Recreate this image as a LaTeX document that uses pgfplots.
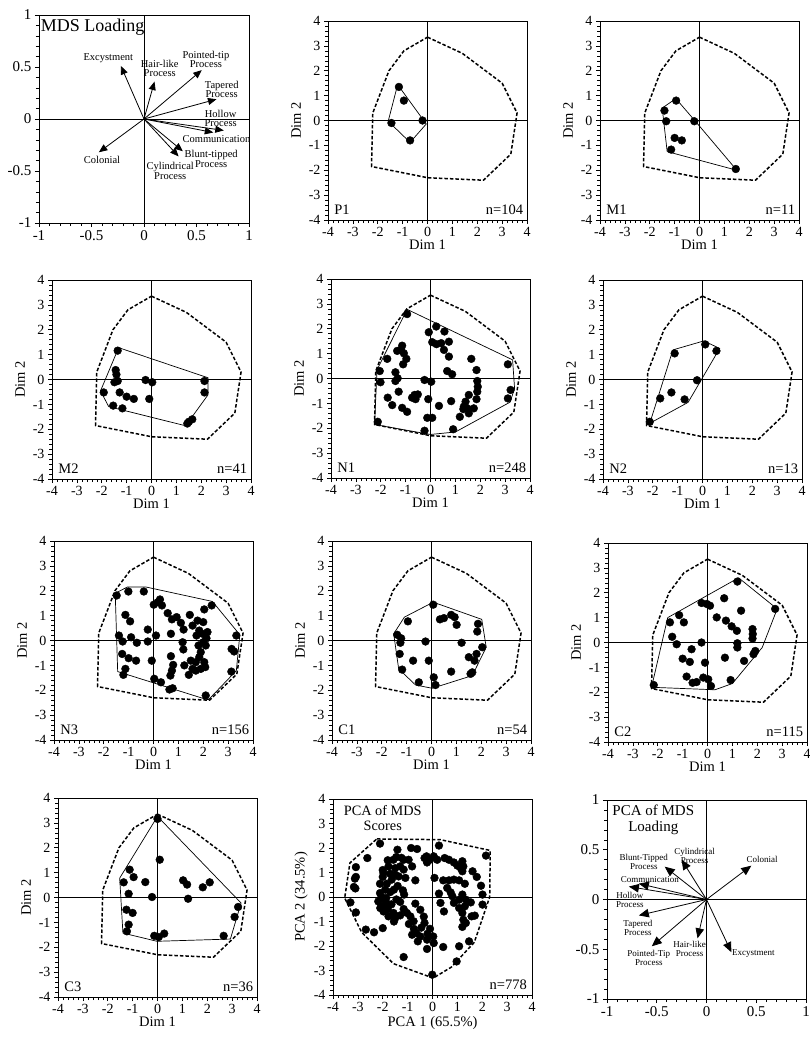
\documentclass[border=0pt]{standalone}
\usepackage{pgfplots}
\pgfplotsset{compat=1.18}
\usepackage{fontspec}
\setmainfont{Liberation Serif}
\usetikzlibrary{arrows.meta}

\newcommand{\zerolines}[1]{%
 \addplot[black, line width=0.8pt, forget plot] coordinates {(-#1,0) (#1,0)};
 \addplot[black, line width=0.8pt, forget plot] coordinates {(0,-#1) (0,#1)};
}
\newcommand{\allhull}{%
 \addplot[black, line width=1.5pt, dash pattern=on 3.5pt off 2pt] coordinates {(0,3.35) (1.4,2.7) (3.0,1.5) (3.6,0.3) (3.35,-1.35) (2.25,-2.4) (0,-2.3) (-2.25,-1.85) (-2.2,0.3) (-1.55,2.0) (-0.95,2.8) (0,3.35)};
}
\pgfplotsset{
 base/.style={scale only axis, tick align=outside, tick pos=left, minor tick num=4,
   axis line style={line width=0.8pt}, major tick length=4pt, minor tick length=3pt,
   every major tick/.style={black, line width=0.6pt},
   every minor tick/.style={black, line width=0.5pt},
   /pgf/number format/assume math mode=true, anchor=north west},
 scat/.style={base, width=199pt, height=199pt, xmin=-4, xmax=4, ymin=-4, ymax=4,
   xtick={-4,-3,...,4}, ytick={-4,-3,...,4}, xlabel={Dim 1}, ylabel={Dim 2},
   tick label style={font=\fontsize{14}{14}\selectfont},
   label style={font=\fontsize{14.5}{14.5}\selectfont},
   xlabel style={at={(axis description cs:0.5,-0.125)}, anchor=center},
   ylabel style={at={(axis description cs:-0.16,0.5)}, anchor=center}},
 load/.style={base, xmin=-1, xmax=1, ymin=-1, ymax=1,
   xtick={-1,-0.5,0,0.5,1}, ytick={-1,-0.5,0,0.5,1},
   tick label style={font=\fontsize{15}{15}\selectfont}},
 pts/.style={only marks, mark=*, mark size=3.9pt, black},
 hull/.style={black, line width=0.7pt},
 arr/.style={black, line width=0.8pt, -{Triangle[length=8.5pt,width=7pt]}},
 arrb/.style={black, line width=0.8pt, -{Triangle[length=10pt,width=8.5pt]}},
}
\newcommand{\nlab}[2]{%
 \node[anchor=west, inner sep=0pt, font=\fontsize{14.5}{14.5}\selectfont] at (axis cs:-3.75,-3.6) {#1};
 \node[anchor=east, inner sep=0pt, font=\fontsize{14.5}{14.5}\selectfont] at (axis cs:3.85,-3.6) {#2};
}

\begin{document}
\begin{tikzpicture}
\useasboundingbox (0,0) rectangle (810pt,-1041pt);

% ---------- Panel 1: MDS Loading
\begin{axis}[load, at={(39pt,-15pt)}, width=210pt, height=208pt]
\zerolines{1}
\addplot[arr] coordinates {(0,0) (-0.22,0.51)};
\addplot[arr] coordinates {(0,0) (0.10,0.36)};
\addplot[arr] coordinates {(0,0) (0.55,0.47)};
\addplot[arr] coordinates {(0,0) (0.69,0.19)};
\addplot[arr] coordinates {(0,0) (0.76,-0.11)};
\addplot[arr] coordinates {(0,0) (0.66,-0.13)};
\addplot[arr] coordinates {(0,0) (0.37,-0.31)};
\addplot[arr] coordinates {(0,0) (0.33,-0.36)};
\addplot[arr] coordinates {(0,0) (-0.43,-0.32)};
\begin{scope}[every node/.style={align=center, inner sep=0pt, font=\fontsize{10.5}{9.5}\selectfont}]
\node at (axis cs:-0.34,0.58) {Excystment};
\node at (axis cs:0.15,0.485) {Hair-like\\Process};
\node at (axis cs:0.59,0.575) {Pointed-tip\\Process};
\node at (axis cs:0.74,0.285) {Tapered\\Process};
\node at (axis cs:0.73,0.005) {Hollow\\Process};
\node at (axis cs:0.69,-0.195) {Communication};
\node at (axis cs:0.64,-0.385) {Blunt-tipped\\Process};
\node at (axis cs:0.25,-0.50) {Cylindrical\\Process};
\node at (axis cs:-0.40,-0.39) {Colonial};
\end{scope}
\node[anchor=west, inner sep=0pt, font=\fontsize{18}{18}\selectfont] at (axis cs:-0.985,0.885) {MDS Loading};
\end{axis}

% ---------- Panel 2: P1
\begin{axis}[scat, at={(328pt,-21pt)}]
\zerolines{4}
\allhull
\addplot[hull] coordinates {(-1.2,1.44) (-0.05,-0.14) (-0.7,-0.88) (-1.58,-0.03) (-1.2,1.44)};
\addplot[pts] coordinates {(-1.15,1.35) (-0.95,0.8) (-1.45,-0.1) (-0.2,0) (-0.7,-0.8)};
\nlab{P1}{n=104}
\end{axis}

% ---------- Panel 3: M1
\begin{axis}[scat, at={(600pt,-21pt)}]
\zerolines{4}
\allhull
\addplot[hull] coordinates {(-0.95,0.88) (-0.15,-0.05) (1.5,-2.0) (-1.3,-1.25) (-1.5,0.5) (-0.95,0.88)};
\addplot[pts] coordinates {(-0.94,0.8) (-1.41,0.4) (-1.34,-0.03) (-0.21,-0.03) (-1.0,-0.7) (-0.71,-0.8) (-1.14,-1.17) (1.46,-1.95)};
\nlab{M1}{n=11}
\end{axis}

% ---------- Panel 4: M2
\begin{axis}[scat, at={(52pt,-280pt)}]
\zerolines{4}
\allhull
\addplot[hull] coordinates {(-1.32,1.28) (2.27,0.07) (2.27,-0.62) (1.37,-1.86) (-1.72,-1.09) (-2.05,-0.46) (-1.32,1.28)};
\addplot[pts] coordinates {(-1.36,1.16) (-1.44,0.38) (-1.41,0.2) (-1.36,-0.06) (-1.49,-0.11) (-1.92,-0.52) (-1.28,-0.52) (-1.0,-0.69) (-0.71,-0.78) (-1.54,-1.05) (-1.17,-1.16) (-0.24,-0.02) (0.03,-0.11) (-0.09,-0.78) (2.13,-0.06) (2.13,-0.52) (1.5,-1.7) (1.64,-1.6) (1.44,-1.77)};
\nlab{M2}{n=41}
\end{axis}

% ---------- Panel 5: N1
\begin{axis}[scat, at={(331pt,-279pt)}]
\zerolines{4}
\allhull
\addplot[hull] coordinates {(-0.94,2.78) (3.3,0.75) (3.38,-0.4) (3.2,-0.95) (1.0,-2.15) (0,-2.25) (-2.25,-1.85) (-2.15,0.35) (-0.94,2.78)};
\addplot[pts] coordinates {(-0.94,2.59) (0.23,2.09) (-0.07,1.86) (0.56,1.89) (0.07,1.46) (0.24,1.38) (0.43,1.42) (0.74,1.48) (0.54,1.15) (0.74,0.88)
 (-1.14,1.32) (-1.18,1.15) (-1.34,1.11) (-1.07,1.01) (-0.97,0.79) (-1.1,0.57) (-1.74,0.79) (-2.04,0.3) (-2.01,-0.15) (-1.41,0.25) (-1.41,-0.10) (-1.32,0.01)
 (-1.28,-0.53) (-1.72,-0.77) (-1.54,-1.07) (-1.14,-1.18) (-0.94,-1.34) (-0.74,-0.77) (-0.64,-0.66) (-0.51,-0.64) (-0.6,-0.83) (-0.24,-0.06) (0.03,-0.13)
 (-0.09,-0.83) (0.34,-1.1) (-0.13,-1.58) (0.07,-1.58) (-0.24,-2.1) (-2.12,-1.74) (0.91,-2.04) (0.83,-0.91) (0.67,0.3) (0.87,0.17) (1.64,0.79) (1.85,0.34)
 (1.88,-0.1) (1.9,-0.33) (1.88,-0.53) (1.85,-0.83) (1.54,-0.66) (1.41,-0.93) (1.34,-1.13) (1.48,-1.2) (1.32,-1.23) (1.18,-1.54) (1.74,-1.2) (1.54,-1.4)
 (3.11,0.57) (3.22,-0.46) (3.11,-0.8)};
\nlab{N1}{n=248}
\end{axis}

% ---------- Panel 6: N2
\begin{axis}[scat, at={(603pt,-280pt)}]
\zerolines{4}
\allhull
\addplot[hull] coordinates {(-2.12,-1.76) (-1.19,1.19) (0.05,1.55) (0.69,1.25) (-0.58,-0.92) (-2.12,-1.76)};
\addplot[pts] coordinates {(0.11,1.41) (0.56,1.15) (-1.12,1.05) (-0.22,-0.03) (-1.25,-0.52) (-1.7,-0.76) (-0.72,-0.8) (-2.12,-1.7)};
\nlab{N2}{n=13}
\end{axis}

% ---------- Panel 7: N3
\begin{axis}[scat, at={(54pt,-541pt)}]
\zerolines{4}
\allhull
\addplot[hull] coordinates {(-1.5,1.92) (-1.05,2.15) (-0.3,2.15) (2.37,1.57) (3.47,0.23) (3.33,-1.21) (2.21,-2.38) (1.97,-2.32) (-1.44,-1.25) (-1.53,1.61) (-1.5,1.92)};
\addplot[pts] coordinates {(-1.48,1.81) (-1.01,1.97) (-0.39,1.97) (-1.13,1.03) (-0.94,0.77) (-0.23,0.44) (-1.39,0.2) (-1.24,-0.04) (-0.9,0.13) (-0.67,-0.09)
 (-0.23,-0.04) (0.1,0.2) (-1.26,-0.54) (-1.0,-0.71) (-0.7,-0.81) (-0.07,-0.81) (-1.13,-1.14) (-1.21,-1.38) (0.03,-1.54) (0.3,-1.68) (0.64,-1.97) (0.77,-1.92)
 (0.01,1.44) (0.17,1.54) (0.26,1.65) (0.34,1.41) (0.57,1.1) (0.74,0.85) (0.93,0.94) (1.1,0.71) (1.21,0.44) (0.7,0.27) (1.17,-0.07) (1.2,-0.36)
 (0.7,-0.63) (0.79,-0.98) (0.74,-1.21) (0.68,-1.41) (1.24,-1.0) (1.5,-0.81) (1.46,1.03) (1.57,-1.14) (1.42,-1.38) (1.57,0.6) (1.77,0.8) (2.0,0.74)
 (1.84,0.4) (1.73,0.2) (1.97,0.27) (2.17,0.34) (2.13,0.09) (2.0,-0.07) (2.1,-0.2) (1.81,-0.2) (1.9,-0.47) (1.84,-0.67) (1.7,-0.87) (2.04,-0.87)
 (1.9,-1.14) (2.08,-1.07) (1.7,-1.21) (2.04,1.25) (2.34,1.41) (3.33,0.2) (3.14,-0.34) (3.24,-0.44) (3.13,-1.25) (2.1,-2.21)};
\nlab{N3}{n=156}
\end{axis}

% ---------- Panel 8: C1
\begin{axis}[scat, at={(332pt,-541pt)}]
\zerolines{4}
\allhull
\addplot[hull] coordinates {(0.07,1.54) (2.02,0.85) (2.2,-0.27) (1.64,-1.41) (0.03,-1.92) (-0.64,-1.79) (-1.32,-1.14) (-1.52,0.27) (-1.09,0.94) (0.07,1.54)};
\addplot[pts] coordinates {(0.07,1.44) (-0.95,0.77) (-1.38,0.23) (-1.22,0.09) (-1.25,-0.09) (-0.24,-0.04) (-1.28,-0.54) (-0.74,-0.81) (-0.11,-0.81) (-1.18,-1.17)
 (-0.51,-1.68) (0.09,-1.48) (0.16,-1.79) (0.79,-1.25) (0.34,0.85) (0.5,0.9) (0.79,1.03) (0.93,0.94) (1.01,0.63) (1.21,-0.09) (1.87,0.67) (1.84,0.36)
 (1.81,-0.54) (1.5,-0.67) (1.73,-0.81) (2.04,-0.27) (1.64,-1.28) (1.57,-1.34)};
\nlab{C1}{n=54}
\end{axis}

% ---------- Panel 9: C2
\begin{axis}[scat, at={(608pt,-543pt)}]
\zerolines{4}
\allhull
\addplot[hull] coordinates {(-1.6,1.0) (1.25,2.6) (2.8,1.35) (2.2,-0.2) (1.0,-1.65) (0.3,-1.9) (-2.25,-1.8) (-1.6,1.0)};
\addplot[pts] coordinates {(1.2,2.45) (1.35,1.28) (2.72,1.35) (0.67,1.78) (-0.24,1.59) (-0.03,1.55) (0.1,1.48) (0.37,1.01) (0.74,0.88) (0.97,0.65) (1.18,0.47)
 (1.81,0.54) (1.82,0.34) (1.81,0.16) (1.2,-0.03) (1.2,-0.2) (1.92,-0.34) (1.85,-0.47) (1.47,-0.74) (0.7,-0.61) (-1.14,1.1) (-1.51,0.81) (-0.95,0.81)
 (-1.42,0.23) (-1.24,-0.07) (-0.24,0.0) (-0.64,-0.27) (-1.0,-0.65) (-0.71,-0.78) (-0.1,-0.81) (-0.84,-1.37) (-0.6,-1.62) (-0.44,-1.59) (-0.17,-1.41)
 (0.03,-1.48) (0.14,-1.75) (0.93,-1.51) (-2.16,-1.71)};
\nlab{C2}{n=115}
\end{axis}

% ---------- Panel 10: C3
\begin{axis}[scat, at={(58pt,-798pt)}]
\zerolines{4}
\allhull
\addplot[hull] coordinates {(0,3.26) (3.36,-0.22) (2.93,-1.67) (-0.02,-1.76) (-1.39,-1.43) (-1.52,0.78) (0,3.26)};
\addplot[pts] coordinates {(0.0,3.16) (0.09,1.52) (-1.12,1.12) (-0.96,0.82) (-1.36,0.61) (-0.49,0.62) (-1.16,0.15) (-0.22,0.02) (1.03,0.69) (1.19,0.52)
 (1.23,-0.05) (1.82,0.41) (2.1,0.61) (-1.25,-0.49) (-1.0,-0.62) (-1.16,-1.09) (-1.23,-1.36) (-0.13,-1.54) (0.05,-1.59) (0.27,-1.45) (3.24,-0.38)
 (3.1,-0.78) (2.66,-1.54)};
\nlab{C3}{n=36}
\end{axis}

% ---------- Panel 11: PCA of MDS scores
\begin{axis}[scat, at={(333pt,-799pt)}, height=196pt, xlabel={PCA 1 (65.5\%)}, ylabel={PCA 2 (34.5\%)},
   xlabel style={at={(axis description cs:0.5,-0.145)}, anchor=center}]
\zerolines{4}
\addplot[black, line width=1.5pt, dash pattern=on 3.5pt off 2pt] coordinates {(-2.24,2.37) (0.32,2.34) (2.32,1.9) (2.3,0.0) (1.68,-1.85) (0.76,-2.86) (0.03,-3.31) (-1.57,-2.72) (-2.85,-1.44) (-3.53,-0.04) (-3.32,1.39) (-2.24,2.37)};
\addplot[pts] coordinates {(-2.11,2.18) (-2.62,1.59) (-3.08,1.22) (-3.08,0.82) (-3.12,0.75) (-3.16,0.41) (-3.1,0.35) (-3.3,-0.22) (-3.08,-0.63) (-2.68,-1.33)
 (-2.35,-1.44) (-2.0,-1.27) (-1.16,-2.45) (-1.41,1.93) (-1.46,1.63) (-1.57,1.52) (-1.16,1.52) (-0.96,1.52) (-0.86,2.0) (-0.62,1.96) (-1.77,1.25)
 (-1.5,1.18) (-1.3,1.25) (-1.16,1.12) (-0.82,1.25) (-1.97,0.98) (-2.0,0.82) (-2.11,0.54) (-1.84,0.54) (-1.64,0.71) (-1.5,0.91) (-1.36,0.84)
 (-1.09,0.78) (-0.69,0.68) (-1.19,0.27) (-1.14,0.1) (-2.11,0.16) (-2.18,-0.18) (-2.04,-0.38) (-1.86,-0.24) (-1.86,-0.04) (-1.97,-0.59) (-1.77,-0.79)
 (-1.57,-0.65) (-1.5,-0.86) (-1.16,-0.49) (-1.03,-0.65) (-0.89,-0.79) (-0.76,-0.99) (-0.69,-0.27) (-0.49,-0.52) (-0.32,-1.06) (-0.65,-1.47) (-0.59,-1.81)
 (-0.82,-1.54) (-0.49,-1.61) (-0.22,-1.74) (-0.22,-2.12) (0.03,-1.61) (0.05,-1.88) (-0.01,-3.17) (0.43,-2.04) (0.26,0.14) (0.32,-0.24) (0.46,-0.59)
 (-0.22,1.41) (-0.32,1.59) (-0.24,1.66) (-0.1,1.52) (0.05,1.66) (0.26,2.1) (0.19,1.52) (0.49,1.59) (0.66,1.52) (0.86,1.41) (1.0,1.28) (1.2,1.46)
 (1.24,1.25) (1.2,1.05) (1.14,1.18) (1.61,1.05) (1.78,0.82) (1.95,0.46) (2.01,0.1) (2.01,-0.31) (2.15,1.69) (0.08,0.78) (0.43,0.68) (0.66,0.68)
 (0.86,0.71) (1.07,0.68) (1.3,0.54) (0.59,0.37) (0.73,0.19) (0.8,0.03) (0.86,-0.24) (1.07,-0.11) (1.2,0.1) (1.34,-0.11) (1.54,-0.22) (1.3,-0.38)
 (1.07,-0.45) (1.2,-0.65) (1.24,-0.93) (1.34,-1.06) (1.57,-0.79) (1.7,-0.76) (1.2,-1.22) (1.47,-1.81) (1.07,-2.01) (0.97,-2.63)
 (-2.0,1.1) (-1.9,0.3) (-2.05,0.0) (-1.95,-0.1) (-2.1,-0.45) (-1.8,-0.5) (-1.7,0.2) (-1.65,-0.3) (-1.4,0.45) (-1.55,0.3) (-1.3,-0.2) (-1.45,-0.1)
 (-1.8,1.5) (-1.25,1.6) (-1.7,0.95) (-1.55,-1.0) (-1.3,-0.75) (-0.95,-1.1) (-0.75,-1.3) (-0.45,-1.25) (-0.35,-0.8) (-0.1,-1.3) (-0.2,-1.5)};
\node[align=center, inner sep=0pt, font=\fontsize{14.3}{15.5}\selectfont] at (axis cs:-2.0,3.22) {PCA of MDS\\Scores};
\node[anchor=east, inner sep=0pt, font=\fontsize{14.5}{14.5}\selectfont] at (axis cs:3.8,-3.6) {n=778};
\end{axis}

% ---------- Panel 12: PCA of MDS loading
\begin{axis}[load, at={(607pt,-800pt)}, width=199pt, height=199pt]
\zerolines{1}
\addplot[arrb] coordinates {(0,0) (0.45,0.34)};
\addplot[arrb] coordinates {(0,0) (-0.25,0.40)};
\addplot[arrb] coordinates {(0,0) (-0.42,0.33)};
\addplot[arrb] coordinates {(0,0) (-0.68,0.16)};
\addplot[arrb] coordinates {(0,0) (-0.78,0.13)};
\addplot[arrb] coordinates {(0,0) (-0.68,-0.16)};
\addplot[arrb] coordinates {(0,0) (-0.55,-0.47)};
\addplot[arrb] coordinates {(0,0) (-0.09,-0.39)};
\addplot[arrb] coordinates {(0,0) (0.25,-0.53)};
\begin{scope}[every node/.style={align=center, inner sep=0pt, font=\fontsize{9}{9}\selectfont}]
\node at (axis cs:-0.12,0.44) {Cylindrical\\Process};
\node at (axis cs:0.56,0.40) {Colonial};
\node at (axis cs:-0.63,0.375) {Blunt-Tipped\\Process};
\node at (axis cs:-0.57,0.205) {Communication};
\node at (axis cs:-0.77,0.0) {Hollow\\Process};
\node at (axis cs:-0.69,-0.29) {Tapered\\Process};
\node at (axis cs:-0.58,-0.59) {Pointed-Tip\\Process};
\node at (axis cs:-0.17,-0.50) {Hair-like\\Process};
\node at (axis cs:0.47,-0.54) {Excystment};
\end{scope}
\node[align=center, inner sep=0pt, font=\fontsize{15}{16.5}\selectfont] at (axis cs:-0.535,0.80) {PCA of MDS\\Loading};
\end{axis}

\end{tikzpicture}
\end{document}
